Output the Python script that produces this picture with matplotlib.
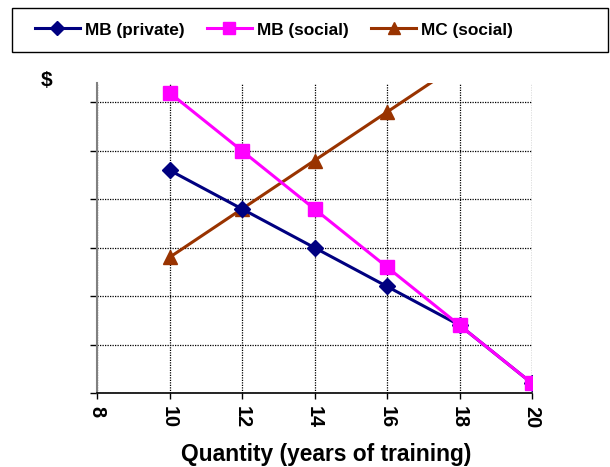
import matplotlib
matplotlib.use("Agg")
import matplotlib.pyplot as plt
from matplotlib.patches import Rectangle

plt.rcParams['font.family'] = ['Liberation Sans', 'DejaVu Sans']
plt.rcParams['font.weight'] = 'bold'

quantity = [10, 12, 14, 16, 18, 20]
mb_private = [23, 19, 15, 11, 7, 1]
mb_social = [31, 25, 19, 13, 7, 1]
mc_social = [14, 19, 24, 29, 34, 39]
x_ticks = [8, 10, 12, 14, 16, 18, 20]
y_grid = [0, 5, 10, 15, 20, 25, 30]

W, H = 610, 467
fig = plt.figure(figsize=(W / 100, H / 100), dpi=100)
ax = fig.add_axes([97 / W, 1 - 393 / H, (532 - 97) / W, (393 - 83) / H])

ax.plot(quantity, mc_social, color='#993300', lw=2.2, marker='^', ms=10, label='MC (social)', zorder=3)
ax.plot(quantity, mb_private, color='#000080', lw=2.2, marker='D', ms=8.5, label='MB (private)', zorder=4)
ax.plot(quantity, mb_social, color='#FF00FF', lw=2.2, marker='s', ms=9.5, label='MB (social)', zorder=5)

ax.set_xlim(8, 20)
ax.set_ylim(0, 32)
ax.set_xticks(x_ticks)
ax.set_xticklabels([str(v) for v in x_ticks], rotation=270, fontsize=14.3, fontweight='bold')
ax.set_yticks(y_grid)
ax.set_yticklabels([])
ax.tick_params(axis='y', direction='out', length=5, width=1, color='black')
ax.tick_params(axis='x', direction='out', length=4.5, width=1, color='black', pad=5)

ax.grid(True, color='black', linestyle=(0, (1, 1)), linewidth=0.9)
ax.set_axisbelow(True)
for s in ['top', 'right']:
    ax.spines[s].set_visible(False)
ax.spines['left'].set_color('#808080')
ax.spines['left'].set_linewidth(1.5)
ax.spines['bottom'].set_color('black')
ax.spines['bottom'].set_linewidth(1.2)

fig.text(326 / W, 1 - 454 / H, 'Quantity (years of training)', fontsize=16.4, fontweight='bold',
         ha='center', va='center')
fig.text(47 / W, 1 - 80 / H, '$', fontsize=15, fontweight='bold', ha='center', va='center')

# legend frame
fig.patches.append(Rectangle((12 / W, 1 - 52 / H), 596 / W, 44 / H, transform=fig.transFigure,
                             fill=False, edgecolor='black', linewidth=1))
handles, labels = ax.get_legend_handles_labels()
order = [1, 2, 0]
fig.legend([handles[i] for i in order], [labels[i] for i in order], loc='center',
           bbox_to_anchor=(274 / W, 1 - 30 / H), ncol=3, frameon=False,
           prop={'weight': 'bold', 'size': 12.4}, handlelength=2.6, handletextpad=0.3,
           columnspacing=1.3, markerscale=0.85)

fig.savefig('out.png', dpi=100)
